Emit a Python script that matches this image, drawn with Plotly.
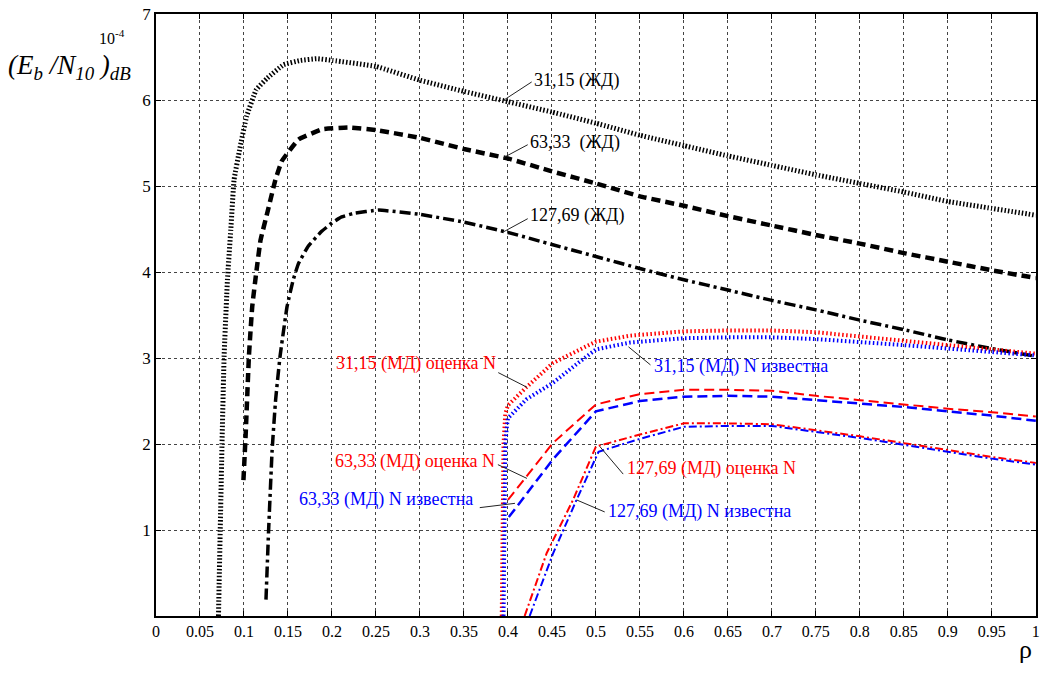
import plotly.graph_objects as go

# ---------------- data ----------------
# ЖД curves (black)
x_zd31 = [0.071, 0.073, 0.075, 0.0774, 0.0812, 0.085, 0.0887, 0.095, 0.103, 0.114, 0.126, 0.145, 0.164,
          0.183, 0.201, 0.25, 0.30, 0.35, 0.40, 0.45, 0.50, 0.55, 0.60, 0.65, 0.70, 0.75, 0.80,
          0.85, 0.90, 0.95, 1.00]
y_zd31 = [0.0, 1.0, 2.0, 3.02, 3.91, 4.49, 5.07, 5.42, 5.81, 6.12, 6.25, 6.41, 6.46,
          6.48, 6.46, 6.39, 6.23, 6.10, 5.98, 5.86, 5.73, 5.59, 5.47, 5.35, 5.24, 5.13, 5.03,
          4.93, 4.82, 4.74, 4.66]

x_zd63 = [0.0994, 0.102, 0.1056, 0.1094, 0.1139, 0.1188, 0.1263, 0.1357, 0.143, 0.162, 0.189, 0.219,
          0.25, 0.30, 0.35, 0.40, 0.45, 0.50, 0.55, 0.60, 0.65, 0.70, 0.75, 0.80, 0.85, 0.90, 0.95, 1.00]
y_zd63 = [1.58, 2.13, 3.02, 3.60, 3.99, 4.37, 4.68, 5.07, 5.29, 5.54, 5.66, 5.68,
          5.65, 5.56, 5.43, 5.32, 5.17, 5.03, 4.88, 4.77, 4.65, 4.54, 4.43, 4.33, 4.22, 4.12, 4.02, 3.93]

x_zd127 = [0.125, 0.128, 0.132, 0.136, 0.141, 0.149, 0.156, 0.162, 0.173, 0.188, 0.20, 0.211, 0.224,
           0.253, 0.30, 0.35, 0.40, 0.45, 0.50, 0.55, 0.60, 0.65, 0.70, 0.75, 0.80, 0.85, 0.90, 0.95, 1.00]
y_zd127 = [0.19, 1.0, 1.93, 2.52, 3.02, 3.60, 3.91, 4.10, 4.30, 4.47, 4.57, 4.64, 4.68,
           4.72, 4.67, 4.58, 4.46, 4.32, 4.18, 4.04, 3.91, 3.79, 3.67, 3.56, 3.44, 3.33, 3.21, 3.11, 3.02]

# МД curves, N estimated (red)
x_md31_est = [0.393, 0.394, 0.395, 0.397, 0.40, 0.421, 0.451, 0.482, 0.50, 0.539, 0.60, 0.65, 0.70,
              0.75, 0.80, 0.85, 0.90, 0.95, 1.00]
y_md31_est = [0.0, 1.0, 2.0, 2.35, 2.45, 2.66, 2.94, 3.10, 3.19, 3.26, 3.31, 3.32, 3.32,
              3.30, 3.25, 3.20, 3.15, 3.10, 3.05]

x_md63_est = [0.40, 0.421, 0.451, 0.50, 0.55, 0.60, 0.65, 0.70, 0.75, 0.80, 0.85, 0.90, 0.95, 1.00]
y_md63_est = [1.35, 1.62, 2.01, 2.46, 2.58, 2.63, 2.63, 2.62, 2.56, 2.51, 2.46, 2.41, 2.37, 2.32]

x_md127_est = [0.419, 0.444, 0.474, 0.50, 0.55, 0.60, 0.65, 0.70, 0.75, 0.80, 0.85, 0.90, 0.95, 1.00]
y_md127_est = [0.0, 0.73, 1.35, 1.97, 2.11, 2.24, 2.24, 2.23, 2.16, 2.09, 2.01, 1.93, 1.85, 1.78]

# МД curves, N known (blue)
x_md31_kn = [0.395, 0.396, 0.397, 0.399, 0.40, 0.421, 0.451, 0.482, 0.50, 0.539, 0.60, 0.65, 0.70,
             0.75, 0.80, 0.85, 0.90, 0.95, 1.00]
y_md31_kn = [0.0, 1.0, 2.0, 2.22, 2.30, 2.52, 2.71, 2.96, 3.10, 3.18, 3.23, 3.24, 3.24,
             3.22, 3.19, 3.15, 3.11, 3.07, 3.03]

x_md63_kn = [0.401, 0.451, 0.50, 0.55, 0.60, 0.65, 0.70, 0.75, 0.80, 0.85, 0.90, 0.95, 1.00]
y_md63_kn = [1.15, 1.82, 2.38, 2.50, 2.55, 2.56, 2.55, 2.51, 2.47, 2.43, 2.38, 2.33, 2.27]

x_md127_kn = [0.4247, 0.451, 0.478, 0.503, 0.55, 0.60, 0.65, 0.70, 0.75, 0.80, 0.85, 0.90, 0.95, 1.00]
y_md127_kn = [0.0, 0.72, 1.35, 1.91, 2.06, 2.20, 2.21, 2.21, 2.14, 2.07, 1.99, 1.91, 1.83, 1.76]

x_ticks = [0, 0.05, 0.1, 0.15, 0.2, 0.25, 0.3, 0.35, 0.4, 0.45, 0.5,
           0.55, 0.6, 0.65, 0.7, 0.75, 0.8, 0.85, 0.9, 0.95, 1]
x_ticktext = ["0", "0.05", "0.1", "0.15", "0.2", "0.25", "0.3", "0.35", "0.4", "0.45", "0.5",
              "0.55", "0.6", "0.65", "0.7", "0.75", "0.8", "0.85", "0.9", "0.95", "1"]
y_ticks = [1, 2, 3, 4, 5, 6, 7]

# labels: text, colour, text position, anchor, leader line start/end
lbl_text = ["31,15 (ЖД)", "63,33  (ЖД)", "127,69 (ЖД)",
            "31,15 (МД) оценка N", "63,33 (МД) оценка N", "63,33 (МД) N известна",
            "31,15 (МД) N известна", "127,69 (МД) оценка N", "127,69 (МД) N известна"]
lbl_color = ["black", "black", "black", "red", "red", "blue", "blue", "red", "blue"]
lbl_x = [0.427, 0.4225, 0.4225, 0.3886, 0.3875, 0.3625, 0.5633, 0.533, 0.5114]
lbl_y = [6.23, 5.51, 4.66, 2.94, 1.80, 1.35, 2.90, 1.72, 1.21]
lbl_anchor = ["left", "left", "left", "right", "right", "right", "left", "left", "left"]
lead_x0 = [0.3955, 0.395, 0.3955, 0.389, 0.3886, 0.368, 0.537, 0.5045, 0.478]
lead_y0 = [6.0, 5.33, 4.47, 2.83, 1.76, 1.26, 3.13, 1.97, 1.35]
lead_x1 = [0.427, 0.4225, 0.4225, 0.4216, 0.4216, 0.408, 0.562, 0.531, 0.510]
lead_y1 = [6.21, 5.48, 4.62, 2.66, 1.60, 1.31, 2.92, 1.65, 1.21]

# ---------------- figure ----------------
fig = go.Figure()

def add(x, y, color, width, dash, shape="linear"):
    line = dict(color=color, width=width, dash=dash, shape=shape)
    if shape == "spline":
        line["smoothing"] = 0.3
    fig.add_trace(go.Scatter(x=x, y=y, mode="lines", showlegend=False, line=line))

add(x_zd31, y_zd31, "black", 5, "1.5px,2px", "spline")
add(x_zd63, y_zd63, "black", 4.5, "9px,5px", "spline")
add(x_zd127, y_zd127, "black", 3.5, "11px,4px,3px,4px", "spline")

add(x_md31_est, y_md31_est, "red", 4, "1.5px,2.5px")
add(x_md31_kn, y_md31_kn, "blue", 4, "1.5px,2.5px")
add(x_md63_est, y_md63_est, "red", 2, "10px,5px")
add(x_md63_kn, y_md63_kn, "blue", 2.5, "10px,5px")
add(x_md127_est, y_md127_est, "red", 2, "8px,3px,2px,3px")
add(x_md127_kn, y_md127_kn, "blue", 2, "8px,3px,2px,3px")

serif = "Liberation Serif"

for i in range(len(lbl_text)):
    fig.add_shape(type="line", xref="x", yref="y",
                  x0=lead_x0[i], y0=lead_y0[i], x1=lead_x1[i], y1=lead_y1[i],
                  line=dict(color="#222222", width=1))
    fig.add_annotation(x=lbl_x[i], y=lbl_y[i], xref="x", yref="y", text=lbl_text[i],
                       showarrow=False, xanchor=lbl_anchor[i], yanchor="middle",
                       font=dict(family=serif, size=18, color=lbl_color[i]))

# axis label (top-left)
fig.add_annotation(xref="paper", yref="paper", x=-0.170, y=0.912, xanchor="left", yanchor="middle",
                   text="<i>(E<sub>b</sub> /N<sub>10</sub> )<sub>dB</sub></i>", showarrow=False,
                   font=dict(family=serif, size=27, color="black"))
fig.add_annotation(xref="paper", yref="paper", x=-0.067, y=0.962, xanchor="left", yanchor="middle",
                   text="10<sup>-4</sup>", showarrow=False,
                   font=dict(family=serif, size=16, color="black"))
fig.add_annotation(xref="paper", yref="paper", x=0.988, y=-0.056, xanchor="center", yanchor="middle",
                   text="ρ", showarrow=False,
                   font=dict(family=serif, size=26, color="black"))

fig.update_xaxes(range=[0, 1.0002], tickvals=x_ticks, ticktext=x_ticktext, automargin=False,
                 ticklabeloverflow="allow",
                 showgrid=True, gridcolor="#444444", gridwidth=1, griddash="dot",
                 showline=True, linecolor="black", linewidth=1.5, mirror="ticks",
                 ticks="inside", ticklen=5, tickcolor="black", zeroline=False,
                 tickfont=dict(family=serif, size=16, color="black"))
fig.update_yaxes(range=[0, 7], tickvals=y_ticks, automargin=False,
                 ticklabeloverflow="allow",
                 showgrid=True, gridcolor="#444444", gridwidth=1, griddash="dot",
                 showline=True, linecolor="black", linewidth=1.5, mirror="ticks",
                 ticks="inside", ticklen=5, tickcolor="black", zeroline=False,
                 tickfont=dict(family=serif, size=17, color="black"))

fig.update_layout(width=1041, height=681, margin=dict(l=156, r=5, t=14, b=65),
                  plot_bgcolor="white", paper_bgcolor="white")

# remove the default 8px page margin so the figure sits at the window's top-left corner
fig.write_html("out.html", config={"displayModeBar": False},
               post_script="document.body.style.margin='0';")
